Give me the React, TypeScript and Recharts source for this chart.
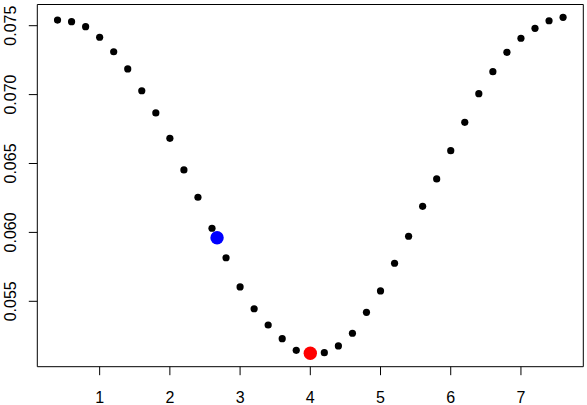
import React from "react";
import {
  ScatterChart,
  Scatter,
  XAxis,
  YAxis,
  ReferenceArea,
} from "recharts";

const xValues = [
  0.4, 0.6, 0.8, 1.0, 1.2, 1.4, 1.6, 1.8, 2.0, 2.2, 2.4, 2.6, 2.8, 3.0, 3.2,
  3.4, 3.6, 3.8, 4.0, 4.2, 4.4, 4.6, 4.8, 5.0, 5.2, 5.4, 5.6, 5.8, 6.0, 6.2,
  6.4, 6.6, 6.8, 7.0, 7.2, 7.4, 7.6,
];
const yValues = [
  0.07541, 0.07529, 0.07493, 0.07416, 0.07311, 0.07186, 0.07028, 0.06867,
  0.06683, 0.06453, 0.06255, 0.0603, 0.05816, 0.05604, 0.05446, 0.05328,
  0.05229, 0.05144, 0.05123, 0.05127, 0.05176, 0.05268, 0.0542, 0.05575,
  0.05776, 0.05972, 0.06189, 0.06388, 0.06593, 0.06799, 0.07007, 0.07166,
  0.07307, 0.07409, 0.07481, 0.07536, 0.07561,
];
const bluePoint = { x: 2.672, y: 0.059615 };
const redPoint = { x: 4.0, y: 0.051226 };

const xTicks = [1, 2, 3, 4, 5, 6, 7];
const yTicks = [0.055, 0.06, 0.065, 0.07, 0.075];
const xDomain: [number, number] = [0.112, 7.888];
const yDomain: [number, number] = [0.050254, 0.076538];

const mainData = xValues.map((x, i) => ({ x, y: yValues[i] }));

const FONT = "'Liberation Sans', Arial, Helvetica, sans-serif";

const YTick = (props: any) => {
  const { x, y, payload } = props;
  const tx = x - 10.8;
  return (
    <text
      x={tx}
      y={y}
      transform={`rotate(-90, ${tx}, ${y})`}
      textAnchor="middle"
      fontSize={16}
      fontFamily={FONT}
      fill="#000"
    >
      {Number(payload.value).toFixed(3)}
    </text>
  );
};

const XTick = (props: any) => {
  const { x, y, payload } = props;
  return (
    <text
      x={x}
      y={y + 25.5}
      textAnchor="middle"
      fontSize={16}
      fontFamily={FONT}
      fill="#000"
    >
      {payload.value}
    </text>
  );
};

const dot = (r: number, color: string) => (props: any) => (
  <circle cx={props.cx} cy={props.cy} r={r} fill={color} />
);

export default function App() {
  return (
    <div style={{ position: "absolute", left: 0, top: 0, background: "#fff" }}>
      <ScatterChart
        width={587}
        height={405}
        margin={{ top: 4.5, right: 3.7, left: 0, bottom: 0 }}
      >
        <XAxis
          type="number"
          dataKey="x"
          domain={xDomain}
          ticks={xTicks}
          allowDataOverflow
          height={38.3}
          axisLine={false}
          tickLine={{ stroke: "#000" }}
          tickSize={8.5}
          tick={<XTick />}
        />
        <YAxis
          type="number"
          dataKey="y"
          domain={yDomain}
          ticks={yTicks}
          allowDataOverflow
          width={37.3}
          axisLine={false}
          tickLine={{ stroke: "#000" }}
          tickSize={8.5}
          tick={<YTick />}
        />
        <ReferenceArea
          x1={xDomain[0]}
          x2={xDomain[1]}
          y1={yDomain[0]}
          y2={yDomain[1]}
          fill="none"
          fillOpacity={0}
          stroke="#000"
          strokeWidth={1}
        />
        <Scatter
          data={mainData}
          shape={dot(3.6, "#000")}
          isAnimationActive={false}
        />
        <Scatter
          data={[bluePoint]}
          shape={dot(6.7, "#0000ff")}
          isAnimationActive={false}
        />
        <Scatter
          data={[redPoint]}
          shape={dot(6.7, "#ff0000")}
          isAnimationActive={false}
        />
      </ScatterChart>
    </div>
  );
}
